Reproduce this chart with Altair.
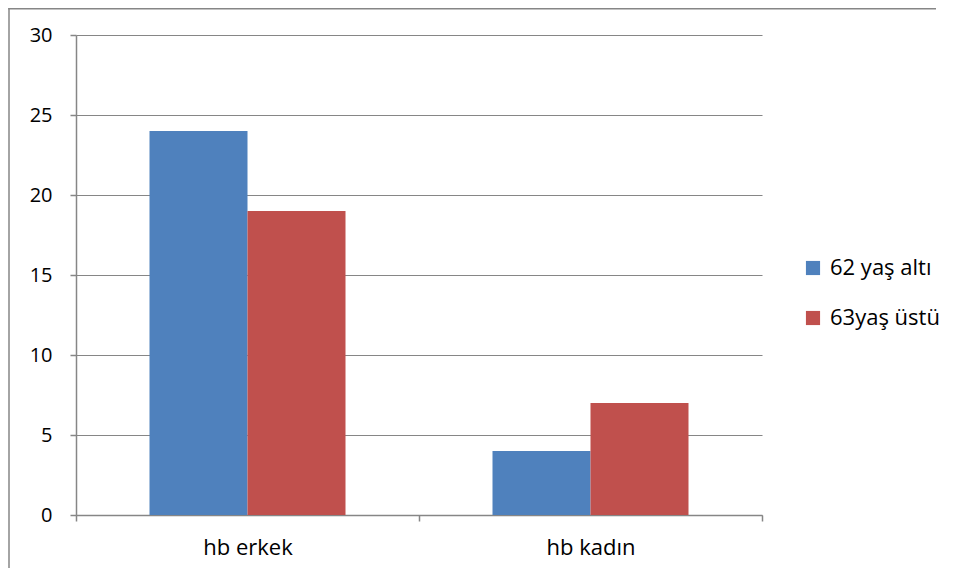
import altair as alt
import pandas as pd

categories = ["hb erkek", "hb erkek", "hb kadın", "hb kadın"]
series = ["62 yaş altı", "63yaş üstü", "62 yaş altı", "63yaş üstü"]
values = [24, 19, 4, 7]
series_order = ["62 yaş altı", "63yaş üstü"]
colors = ["#4F81BD", "#C0504D"]

df = pd.DataFrame({"cat": categories, "series": series, "value": values})

FONT = "Open Sans"
GRAY = "#868686"

bars = alt.Chart(df).mark_bar().encode(
    x=alt.X("cat:N", title=None,
            scale=alt.Scale(paddingInner=0, paddingOuter=0),
            axis=alt.Axis(labelAngle=0, tickBand="extent", labelFontSize=22,
                          labelFont=FONT, labelColor="black", labelPadding=16,
                          domainColor=GRAY, tickColor=GRAY,
                          tickSize=6, domainWidth=1.5, tickWidth=1.5)),
    xOffset=alt.XOffset("series:N", sort=series_order,
                        scale=alt.Scale(paddingInner=0, paddingOuter=0.75)),
    y=alt.Y("value:Q", title=None,
            scale=alt.Scale(domain=[0, 30], nice=False),
            axis=alt.Axis(values=[0, 5, 10, 15, 20, 25, 30], labelFontSize=20,
                          labelFont=FONT, labelColor="black", labelPadding=18,
                          domainColor=GRAY, tickColor=GRAY,
                          gridColor=GRAY, gridWidth=1.2,
                          tickSize=6, domainWidth=1.5, tickWidth=1.5)),
    color=alt.Color("series:N", sort=series_order,
                    scale=alt.Scale(domain=series_order, range=colors),
                    legend=alt.Legend(title=None, orient="none", legendX=726,
                                      legendY=222, symbolType="square",
                                      symbolSize=200, labelFontSize=22,
                                      labelFont=FONT, labelColor="black",
                                      rowPadding=28, symbolStrokeWidth=0,
                                      labelOffset=6)),
)

frame_base = alt.Chart(pd.DataFrame({"a": [0]}))
frame_left = frame_base.mark_rule(color=GRAY, strokeWidth=1.5).encode(
    x=alt.value(-67), y=alt.value(-27), y2=alt.value(600))
frame_top = frame_base.mark_rect(color=GRAY, strokeWidth=0).encode(
    x=alt.value(-67.75), x2=alt.value(860), y=alt.value(-27), y2=alt.value(-25.5))

chart = alt.layer(frame_left, frame_top, bars).properties(
    width=686, height=480,
    autosize=alt.AutoSizeParams(type="none"),
    padding={"left": 68, "top": 27, "right": 186, "bottom": 53},
).configure_view(stroke=None)

chart.save("out.html", embed_options={"renderer": "svg", "actions": False})
